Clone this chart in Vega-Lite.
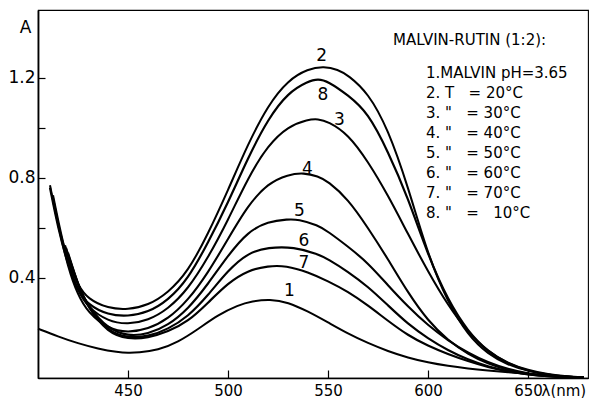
{
  "$schema": "https://vega.github.io/schema/vega-lite/v6.json",
  "width": 550,
  "height": 368,
  "autosize": {"type": "none"},
  "padding": {"left": 38, "top": 10, "right": 5, "bottom": 20},
  "background": "white",
  "config": {
    "font": "DejaVu Sans",
    "view": {"stroke": "black", "strokeWidth": 1.1},
    "axis": {"grid": false, "labelColor": "black", "titleColor": "black", "tickColor": "black", "domainColor": "black", "labelFont": "DejaVu Sans", "titleFont": "DejaVu Sans", "titleFontWeight": "normal"}
  },
  "layer": [
    {
      "data": {"values": [
        {"c":1,"x":405,"y":0.197},{"c":1,"x":415,"y":0.166},{"c":1,"x":425,"y":0.138},{"c":1,"x":435,"y":0.117},{"c":1,"x":445,"y":0.103},{"c":1,"x":450,"y":0.1},{"c":1,"x":455,"y":0.101},{"c":1,"x":465,"y":0.111},{"c":1,"x":475,"y":0.143},{"c":1,"x":485,"y":0.195},{"c":1,"x":495,"y":0.252},{"c":1,"x":505,"y":0.291},{"c":1,"x":512,"y":0.307},{"c":1,"x":521,"y":0.315},{"c":1,"x":530,"y":0.303},{"c":1,"x":540,"y":0.266},{"c":1,"x":550,"y":0.222},{"c":1,"x":560,"y":0.177},{"c":1,"x":570,"y":0.139},{"c":1,"x":580,"y":0.107},{"c":1,"x":590,"y":0.081},{"c":1,"x":600,"y":0.062},{"c":1,"x":610,"y":0.048},{"c":1,"x":620,"y":0.038},{"c":1,"x":630,"y":0.03},{"c":1,"x":640,"y":0.023},{"c":1,"x":650,"y":0.017},{"c":1,"x":660,"y":0.01},{"c":1,"x":670,"y":0.005},{"c":1,"x":678,"y":0.002},
        {"c":2,"x":411,"y":0.77},{"c":2,"x":415,"y":0.61},{"c":2,"x":420,"y":0.465},{"c":2,"x":425,"y":0.37},{"c":2,"x":430,"y":0.315},{"c":2,"x":440,"y":0.278},{"c":2,"x":450,"y":0.273},{"c":2,"x":460,"y":0.29},{"c":2,"x":470,"y":0.34},{"c":2,"x":480,"y":0.425},{"c":2,"x":490,"y":0.575},{"c":2,"x":500,"y":0.75},{"c":2,"x":510,"y":0.935},{"c":2,"x":520,"y":1.09},{"c":2,"x":530,"y":1.19},{"c":2,"x":540,"y":1.235},{"c":2,"x":548,"y":1.245},{"c":2,"x":555,"y":1.232},{"c":2,"x":560,"y":1.21},{"c":2,"x":570,"y":1.14},{"c":2,"x":580,"y":0.995},{"c":2,"x":590,"y":0.765},{"c":2,"x":600,"y":0.49},{"c":2,"x":610,"y":0.3},{"c":2,"x":620,"y":0.17},{"c":2,"x":630,"y":0.095},{"c":2,"x":640,"y":0.052},{"c":2,"x":650,"y":0.028},{"c":2,"x":660,"y":0.013},{"c":2,"x":670,"y":0.005},{"c":2,"x":678,"y":0.002},
        {"c":3,"x":412.5,"y":0.73},{"c":3,"x":415,"y":0.63},{"c":3,"x":420,"y":0.455},{"c":3,"x":425,"y":0.345},{"c":3,"x":430,"y":0.282},{"c":3,"x":440,"y":0.226},{"c":3,"x":450,"y":0.214},{"c":3,"x":460,"y":0.23},{"c":3,"x":470,"y":0.275},{"c":3,"x":480,"y":0.355},{"c":3,"x":490,"y":0.48},{"c":3,"x":500,"y":0.63},{"c":3,"x":510,"y":0.8},{"c":3,"x":520,"y":0.93},{"c":3,"x":530,"y":1.005},{"c":3,"x":540,"y":1.033},{"c":3,"x":545,"y":1.035},{"c":3,"x":550,"y":1.025},{"c":3,"x":560,"y":0.975},{"c":3,"x":570,"y":0.865},{"c":3,"x":580,"y":0.73},{"c":3,"x":590,"y":0.575},{"c":3,"x":600,"y":0.425},{"c":3,"x":610,"y":0.29},{"c":3,"x":620,"y":0.182},{"c":3,"x":630,"y":0.104},{"c":3,"x":640,"y":0.057},{"c":3,"x":650,"y":0.028},{"c":3,"x":660,"y":0.013},{"c":3,"x":670,"y":0.005},{"c":3,"x":678,"y":0.002},
        {"c":4,"x":412.5,"y":0.72},{"c":4,"x":415,"y":0.615},{"c":4,"x":420,"y":0.44},{"c":4,"x":425,"y":0.33},{"c":4,"x":430,"y":0.262},{"c":4,"x":440,"y":0.196},{"c":4,"x":450,"y":0.181},{"c":4,"x":460,"y":0.195},{"c":4,"x":470,"y":0.235},{"c":4,"x":480,"y":0.31},{"c":4,"x":490,"y":0.42},{"c":4,"x":500,"y":0.555},{"c":4,"x":510,"y":0.69},{"c":4,"x":520,"y":0.778},{"c":4,"x":530,"y":0.813},{"c":4,"x":538,"y":0.82},{"c":4,"x":545,"y":0.806},{"c":4,"x":550,"y":0.786},{"c":4,"x":560,"y":0.715},{"c":4,"x":570,"y":0.6},{"c":4,"x":580,"y":0.475},{"c":4,"x":590,"y":0.34},{"c":4,"x":600,"y":0.228},{"c":4,"x":610,"y":0.15},{"c":4,"x":620,"y":0.095},{"c":4,"x":630,"y":0.056},{"c":4,"x":640,"y":0.031},{"c":4,"x":650,"y":0.016},{"c":4,"x":660,"y":0.008},{"c":4,"x":670,"y":0.003},{"c":4,"x":678,"y":0.001},
        {"c":5,"x":418.5,"y":0.53},{"c":5,"x":420,"y":0.49},{"c":5,"x":425,"y":0.37},{"c":5,"x":430,"y":0.287},{"c":5,"x":440,"y":0.196},{"c":5,"x":450,"y":0.167},{"c":5,"x":460,"y":0.175},{"c":5,"x":470,"y":0.21},{"c":5,"x":480,"y":0.275},{"c":5,"x":490,"y":0.375},{"c":5,"x":500,"y":0.49},{"c":5,"x":510,"y":0.585},{"c":5,"x":520,"y":0.625},{"c":5,"x":530,"y":0.634},{"c":5,"x":535,"y":0.634},{"c":5,"x":545,"y":0.61},{"c":5,"x":550,"y":0.585},{"c":5,"x":560,"y":0.525},{"c":5,"x":570,"y":0.46},{"c":5,"x":580,"y":0.37},{"c":5,"x":590,"y":0.285},{"c":5,"x":600,"y":0.21},{"c":5,"x":610,"y":0.15},{"c":5,"x":620,"y":0.1},{"c":5,"x":630,"y":0.062},{"c":5,"x":640,"y":0.035},{"c":5,"x":650,"y":0.018},{"c":5,"x":660,"y":0.008},{"c":5,"x":670,"y":0.003},{"c":5,"x":678,"y":0.001},
        {"c":6,"x":419,"y":0.52},{"c":6,"x":420,"y":0.495},{"c":6,"x":425,"y":0.372},{"c":6,"x":430,"y":0.282},{"c":6,"x":440,"y":0.186},{"c":6,"x":450,"y":0.16},{"c":6,"x":460,"y":0.165},{"c":6,"x":470,"y":0.195},{"c":6,"x":480,"y":0.245},{"c":6,"x":490,"y":0.33},{"c":6,"x":500,"y":0.43},{"c":6,"x":510,"y":0.5},{"c":6,"x":520,"y":0.522},{"c":6,"x":533,"y":0.524},{"c":6,"x":545,"y":0.495},{"c":6,"x":550,"y":0.475},{"c":6,"x":560,"y":0.425},{"c":6,"x":570,"y":0.365},{"c":6,"x":580,"y":0.29},{"c":6,"x":590,"y":0.215},{"c":6,"x":600,"y":0.158},{"c":6,"x":610,"y":0.11},{"c":6,"x":620,"y":0.073},{"c":6,"x":630,"y":0.045},{"c":6,"x":640,"y":0.027},{"c":6,"x":650,"y":0.015},{"c":6,"x":660,"y":0.007},{"c":6,"x":670,"y":0.003},{"c":6,"x":678,"y":0.001},
        {"c":7,"x":420,"y":0.5},{"c":7,"x":425,"y":0.372},{"c":7,"x":430,"y":0.28},{"c":7,"x":440,"y":0.18},{"c":7,"x":450,"y":0.155},{"c":7,"x":460,"y":0.16},{"c":7,"x":470,"y":0.185},{"c":7,"x":480,"y":0.225},{"c":7,"x":490,"y":0.3},{"c":7,"x":500,"y":0.38},{"c":7,"x":510,"y":0.43},{"c":7,"x":520,"y":0.448},{"c":7,"x":529,"y":0.449},{"c":7,"x":540,"y":0.423},{"c":7,"x":550,"y":0.387},{"c":7,"x":560,"y":0.345},{"c":7,"x":570,"y":0.29},{"c":7,"x":580,"y":0.228},{"c":7,"x":590,"y":0.17},{"c":7,"x":600,"y":0.128},{"c":7,"x":610,"y":0.095},{"c":7,"x":620,"y":0.067},{"c":7,"x":630,"y":0.043},{"c":7,"x":640,"y":0.025},{"c":7,"x":650,"y":0.014},{"c":7,"x":660,"y":0.007},{"c":7,"x":670,"y":0.003},{"c":7,"x":678,"y":0.001},
        {"c":8,"x":411,"y":0.76},{"c":8,"x":415,"y":0.6},{"c":8,"x":420,"y":0.45},{"c":8,"x":425,"y":0.35},{"c":8,"x":430,"y":0.292},{"c":8,"x":440,"y":0.252},{"c":8,"x":450,"y":0.246},{"c":8,"x":460,"y":0.262},{"c":8,"x":470,"y":0.31},{"c":8,"x":480,"y":0.395},{"c":8,"x":490,"y":0.54},{"c":8,"x":500,"y":0.7},{"c":8,"x":510,"y":0.88},{"c":8,"x":520,"y":1.035},{"c":8,"x":530,"y":1.14},{"c":8,"x":540,"y":1.185},{"c":8,"x":545,"y":1.195},{"c":8,"x":550,"y":1.185},{"c":8,"x":560,"y":1.13},{"c":8,"x":570,"y":1.06},{"c":8,"x":580,"y":0.905},{"c":8,"x":590,"y":0.72},{"c":8,"x":600,"y":0.49},{"c":8,"x":610,"y":0.31},{"c":8,"x":620,"y":0.185},{"c":8,"x":630,"y":0.105},{"c":8,"x":640,"y":0.058},{"c":8,"x":650,"y":0.031},{"c":8,"x":660,"y":0.014},{"c":8,"x":670,"y":0.006},{"c":8,"x":678,"y":0.002}
      ]},
      "mark": {"type": "line", "interpolate": "basis"},
      "encoding": {
        "x": {"field": "x", "type": "quantitative", "scale": {"domain": [405, 680], "nice": false, "zero": false},
          "axis": {"values": [450, 500, 550, 600, 650], "tickSize": -8, "tickWidth": 1.2, "labelPadding": 13, "labelFontSize": 15, "domainWidth": 1.6,
            "title": "λ(nm)", "titleFontSize": 15, "titleX": 503, "titleY": 5, "titleAnchor": "start", "titleAlign": "left", "titleBaseline": "top"}},
        "y": {"field": "y", "type": "quantitative", "scale": {"domain": [0, 1.47], "nice": false},
          "axis": {"values": [0.4, 0.6, 0.8, 1.0, 1.2], "tickSize": -7, "tickWidth": 1.2, "labelPadding": 10, "labelFontSize": 17, "domainWidth": 1.8,
            "labelExpr": "datum.value == 0.6 || datum.value == 1 ? '' : format(datum.value, '.1f')",
            "title": "A", "titleFontSize": 17, "titleAngle": 0, "titleX": -13, "titleY": 17.5, "titleAlign": "center", "titleBaseline": "middle"}},
        "color": {"field": "c", "type": "nominal",
          "scale": {"domain": [1, 2, 3, 4, 5, 6, 7, 8], "range": ["black", "black", "black", "black", "black", "black", "black", "black"]},
          "legend": {"orient": "none", "legendX": 355, "legendY": 23, "padding": 0,
            "title": "MALVIN-RUTIN (1:2):", "titleFontSize": 15, "titleFontWeight": "normal", "titleColor": "black", "titleFont": "DejaVu Sans", "titlePadding": 17, "titleLimit": 300,
            "labelFontSize": 15, "labelColor": "black", "labelFont": "DejaVu Sans", "labelOffset": 18, "labelLimit": 300,
            "symbolSize": 0, "symbolStrokeWidth": 0, "symbolType": "stroke", "rowPadding": 4,
            "labelExpr": "['', '1.MALVIN pH=3.65', '2.\u00a0T\u00a0\u00a0\u00a0=\u00a020°C', '3.\u00a0\"\u00a0\u00a0\u00a0=\u00a030°C', '4.\u00a0\"\u00a0\u00a0\u00a0=\u00a040°C', '5.\u00a0\"\u00a0\u00a0\u00a0=\u00a050°C', '6.\u00a0\"\u00a0\u00a0\u00a0=\u00a060°C', '7.\u00a0\"\u00a0\u00a0\u00a0=\u00a070°C', '8.\u00a0\"\u00a0\u00a0\u00a0=\u00a0\u00a0\u00a010°C'][datum.value]"}},
        "strokeWidth": {"field": "c", "type": "ordinal",
          "scale": {"domain": [1, 2, 3, 4, 5, 6, 7, 8], "range": [2, 2.2, 1.8, 1.5, 1.5, 1.5, 1.6, 2.8]}, "legend": null}
      }
    },
    {
      "data": {"values": [
        {"t": "1", "x": 530.7, "y": 0.349},
        {"t": "2", "x": 546.8, "y": 1.285},
        {"t": "3", "x": 555.7, "y": 1.029},
        {"t": "4", "x": 539.7, "y": 0.836},
        {"t": "5", "x": 535.7, "y": 0.669},
        {"t": "6", "x": 538, "y": 0.549},
        {"t": "7", "x": 538, "y": 0.459},
        {"t": "8", "x": 547.4, "y": 1.132}
      ]},
      "mark": {"type": "text", "fontSize": 17, "font": "DejaVu Sans", "align": "center", "baseline": "middle", "color": "black"},
      "encoding": {
        "x": {"field": "x", "type": "quantitative"},
        "y": {"field": "y", "type": "quantitative"},
        "text": {"field": "t"}
      }
    }
  ]
}
